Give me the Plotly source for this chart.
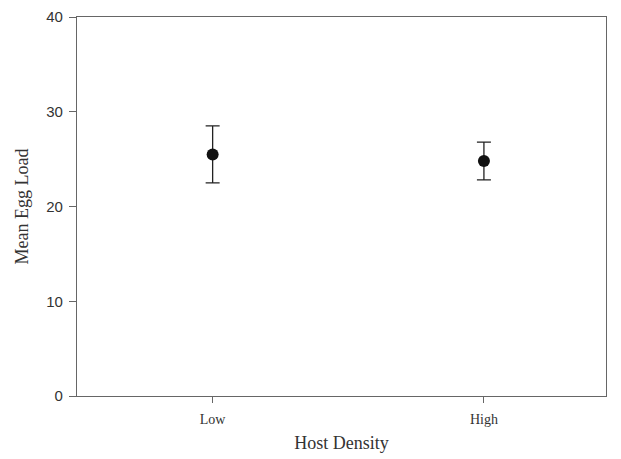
import plotly.graph_objects as go

categories = ["Low", "High"]
means = [25.5, 24.8]
err_plus = [3.0, 2.0]
err_minus = [3.0, 2.0]
y_ticks = [0, 10, 20, 30, 40]

fig = go.Figure()
fig.add_trace(go.Scatter(
    x=[0, 1], y=means, mode="markers",
    marker=dict(color="#111111", size=12),
    error_y=dict(type="data", symmetric=False, array=err_plus, arrayminus=err_minus,
                 color="#222222", thickness=1.3, width=7),
    showlegend=False,
))

axis_line = "#666666"
fig.update_layout(
    width=621, height=459,
    margin=dict(l=69, r=23, t=9, b=71),
    paper_bgcolor="white", plot_bgcolor="white",
    xaxis=dict(range=[-0.5, 1.45], tickvals=[0, 1], ticktext=categories, automargin=False,
               showline=True, linecolor=axis_line, linewidth=1.3, mirror=True,
               ticks="outside", ticklen=6, tickcolor=axis_line, showgrid=False, zeroline=False,
               ticklabelstandoff=4,
               tickfont=dict(family="Liberation Serif", size=14, color="#333333"),
               title=dict(text="Host Density", font=dict(family="Liberation Serif", size=18, color="#333333"),
                          standoff=10)),
    yaxis=dict(range=[0, 40], tickvals=y_ticks, automargin=False,
               showline=True, linecolor=axis_line, linewidth=1.3, mirror=True,
               ticks="outside", ticklen=7, tickcolor=axis_line, showgrid=False, zeroline=False,
               ticklabelstandoff=3,
               tickfont=dict(family="Liberation Sans", size=15, color="#333333"),
               title=dict(text="Mean Egg Load", font=dict(family="Liberation Serif", size=18, color="#333333"),
                          standoff=12)),
)

fig.write_html("out.html")
